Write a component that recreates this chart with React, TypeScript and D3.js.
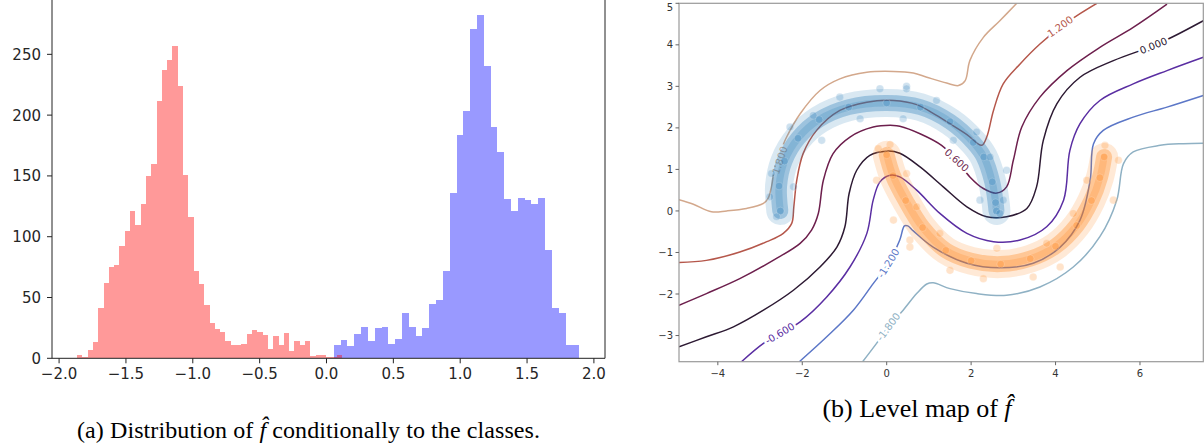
import React from 'react';
import * as d3 from 'd3';

// ---- left panel: histogram of f-hat per class ----
const redRange = [-1.866, 0.117];
const redCounts = [3, 1, 7, 13, 41, 62, 75, 77, 92, 105, 121, 110, 127, 150, 160, 212, 237, 245, 257, 224,
  151, 116, 72, 61, 44, 29, 24, 22, 14, 11, 11, 12, 20, 23, 22, 19, 8, 18, 11, 21,
  6, 14, 11, 14, 2, 3, 3, 1, 1, 3];
const blueRange = [0.055, 1.89];
const blueCounts = [11, 15, 10, 20, 26, 14, 25, 26, 12, 16, 37, 26, 18, 25, 45, 48, 72, 136, 184, 203,
  271, 282, 240, 190, 170, 131, 121, 132, 130, 127, 132, 89, 41, 37, 11, 11];
const histXTicks = [-2.0, -1.5, -1.0, -0.5, 0.0, 0.5, 1.0, 1.5, 2.0];
const histYTicks = [0, 50, 100, 150, 200, 250];

// ---- right panel: level map ----
const levels = [-1.8, -1.2, -0.6, 0.0, 0.6, 1.2, 1.8];
const levelColors = ['#8fb1c4', '#5c77c7', '#5a2ea2', '#2d1a33', '#6d1f4d', '#b5574b', '#d3a88c'];

const lineM18 = [[-0.57, -3.63], [-0.24, -3.19], [0.04, -2.79], [0.39, -2.39], [0.71, -1.99], [0.95, -1.76], [1.1, -1.73],
  [1.5, -1.87], [2.13, -1.99], [2.84, -2.03], [3.63, -1.83], [4.42, -1.35], [5.05, -0.62], [5.45, 0.26], [5.61, 1.14],
  [5.84, 1.42], [6.48, 1.58], [7.03, 1.62], [7.5, 1.63]];
const lineM12 = [[-2.07, -3.63], [-1.42, -3.03], [-0.79, -2.39], [-0.32, -1.75], [0.04, -1.26], [0.31, -0.7], [0.42, -0.36],
  [0.5, -0.36], [0.63, -0.48], [1.1, -0.87], [1.9, -1.26], [2.68, -1.37], [3.47, -1.26], [4.11, -0.87], [4.58, -0.22],
  [4.82, 0.74], [4.9, 1.62], [5.13, 1.94], [5.84, 2.26], [6.64, 2.5], [7.5, 2.78]];
const lineM06 = [[-3.44, -3.63], [-2.92, -3.19], [-2.53, -2.95], [-2.05, -2.67], [-1.42, -2.07], [-0.87, -1.35], [-0.47, -0.54],
  [-0.32, 0.26], [-0.16, 0.7], [0.08, 0.86], [0.31, 0.82], [0.71, 0.5], [1.26, -0.06], [1.9, -0.54], [2.53, -0.74],
  [3.16, -0.7], [3.79, -0.38], [4.19, 0.26], [4.34, 1.46], [4.58, 2.1], [5.05, 2.66], [5.84, 3.06], [6.64, 3.38], [7.5, 3.7]];
const line00 = [[-4.92, -3.27], [-4.27, -3.03], [-3.63, -2.79], [-2.92, -2.39], [-2.21, -1.91], [-1.58, -1.35], [-1.18, -0.87],
  [-0.99, -0.38], [-0.89, 0.42], [-0.71, 0.98], [-0.4, 1.34], [0, 1.44], [0.31, 1.39], [0.79, 1.06], [1.34, 0.58], [1.9, 0.1],
  [2.37, -0.14], [2.84, -0.14], [3.32, 0.06], [3.55, 0.58], [3.71, 1.7], [4.03, 2.58], [4.58, 3.22], [5.37, 3.62],
  [6.32, 3.98], [6.79, 4.2], [7.5, 4.58]];
const lineP06 = [[-4.92, -2.27], [-4.27, -1.99], [-3.48, -1.63], [-2.69, -1.19], [-2.05, -0.78], [-1.78, -0.46], [-1.62, -0.06],
  [-1.5, 0.74], [-1.27, 1.38], [-0.87, 1.78], [-0.32, 2.02], [0.16, 2.06], [0.31, 2.04], [0.79, 1.86], [1.3, 1.58],
  [1.66, 1.22], [1.97, 0.82], [2.29, 0.54], [2.61, 0.43], [2.84, 0.58], [3.0, 1.22], [3.2, 2.02], [3.63, 2.74],
  [4.27, 3.38], [5.05, 3.94], [5.84, 4.42], [6.64, 4.98]];
const lineP12 = [[-4.92, -1.24], [-4.27, -1.19], [-3.48, -0.99], [-2.84, -0.74], [-2.45, -0.54], [-2.25, -0.3], [-2.2, 0.1],
  [-2.13, 0.74], [-1.98, 1.38], [-1.66, 1.94], [-1.11, 2.42], [-0.47, 2.62], [0.16, 2.66], [0.71, 2.56], [1.1, 2.35],
  [1.5, 2.1], [1.9, 1.84], [2.25, 1.58], [2.37, 1.78], [2.53, 2.42], [2.76, 3.06], [3.16, 3.54], [3.63, 4.02],
  [4.11, 4.42], [4.58, 4.75], [4.98, 5.0]];
const lineP18 = [[-4.92, 0.27], [-4.58, 0.16], [-4.15, -0.02], [-3.79, 0.0], [-3.32, 0.06], [-2.92, 0.18], [-2.81, 0.3],
  [-2.73, 0.58], [-2.65, 1.06], [-2.53, 1.4], [-2.37, 1.78], [-2.05, 2.34], [-1.58, 2.9], [-1.11, 3.18], [-0.47, 3.34],
  [0.16, 3.36], [0.63, 3.32], [0.95, 3.22], [1.42, 3.08], [1.7, 3.02], [1.86, 3.14], [1.97, 3.62], [2.29, 4.18],
  [2.68, 4.58], [3.08, 5.0]];
const contourLines = [lineM18, lineM12, lineM06, line00, lineP06, lineP12, lineP18];

// [level, x, y, angle]
const contourLabels = [
  [-1.8, 0.04, -2.79, -53], [-1.2, 0.04, -1.26, -58], [-0.6, -2.53, -2.95, -30],
  [0.0, 6.32, 3.98, -22], [0.6, 1.66, 1.22, 42], [1.2, 4.11, 4.44, -35], [1.8, -2.53, 1.22, -72],
];

const blueMoon = [[-2.52, 0.0], [-2.55, 0.6], [-2.42, 1.2], [-2.1, 1.75], [-1.6, 2.2], [-0.9, 2.5], [0, 2.6], [0.8, 2.5],
  [1.5, 2.15], [2.05, 1.65], [2.3, 1.3], [2.5, 0.7], [2.58, 0.2], [2.6, 0.0]];
const orangeMoon = [[0.0, 1.35], [0.15, 0.85], [0.45, 0.25], [0.85, -0.4], [1.4, -0.95], [2.0, -1.2], [2.7, -1.28],
  [3.4, -1.15], [4.0, -0.85], [4.5, -0.35], [4.85, 0.25], [5.05, 0.8], [5.15, 1.3]];
const blueStray = [[-2.77, 0.34], [-2.73, 0.9], [-2.61, -0.14], [-2.21, 0.58], [-2.29, 2.02], [-1.74, 2.3], [-1.54, 1.7],
  [-1.11, 2.74], [-0.63, 2.22], [-0.16, 2.94], [0.47, 3.0], [0.39, 2.22], [0.47, 2.94], [1.18, 2.66], [1.58, 1.7],
  [2.13, 1.9], [2.45, 1.3], [2.84, 0.98], [2.76, 0.26], [2.21, 0.26], [2.68, -0.06]];
const orangeStray = [[-0.2, 1.5], [0.08, 1.6], [-0.24, 0.74], [0.47, 0.9], [0.16, -0.22], [0.71, 0.1], [0.55, -0.87],
  [0.55, -0.7], [1.26, -0.54], [1.5, -1.43], [2.29, -1.63], [2.61, -0.9], [3.47, -1.59], [4.11, -1.35], [3.79, -0.78],
  [4.42, -0.06], [4.74, 0.74], [5.17, 1.58], [5.37, 0.26], [5.49, 1.22]];
const mapXTicks = [-4, -2, 0, 2, 4, 6];
const mapYTicks = [-3, -2, -1, 0, 1, 2, 3, 4, 5];

const minus = (s: string) => s.replace('-', '\u2212');

export default function App() {
  // histogram scales
  const xH = d3.scaleLinear().domain([-2.053, 2.083]).range([52, 605]);
  const yH = d3.scaleLinear().domain([0, 296]).range([358.3, -1.6]);
  // level map scales
  const xM = d3.scaleLinear().domain([-4.92, 7.5]).range([679, 1203.3]);
  const yM = d3.scaleLinear().domain([-3.63, 5]).range([361.7, 3.3]);

  const curve = d3.line<number[]>()
    .x(d => xM(d[0]))
    .y(d => yM(d[1]))
    .curve(d3.curveCatmullRom.alpha(0.5));

  const bars = (range: number[], counts: number[], color: string) => {
    const w = (range[1] - range[0]) / counts.length;
    return counts.map((c, i) => {
      const x0 = xH(range[0] + i * w);
      const x1 = xH(range[0] + (i + 1) * w);
      return <rect key={i} x={x0} y={yH(c)} width={x1 - x0} height={yH(0) - yH(c)}
        fill={color} fillOpacity={0.4} shapeRendering="crispEdges" />;
    });
  };

  const moon = (pts: number[][], stray: number[][], color: string) => (
    <g>
      <path d={curve(pts) || ''} fill="none" stroke={color} strokeOpacity={0.17} strokeWidth={28} strokeLinecap="round" />
      <path d={curve(pts) || ''} fill="none" stroke={color} strokeOpacity={0.32} strokeWidth={16} strokeLinecap="round" />
      <path d={curve(pts) || ''} fill="none" stroke={color} strokeOpacity={0.2} strokeWidth={7} strokeLinecap="round" />
      {pts.concat(stray).map((p, i) => (
        <circle key={i} cx={xM(p[0])} cy={yM(p[1])} r={3.8} fill={color} fillOpacity={0.22}
          stroke="#fff" strokeOpacity={0.4} strokeWidth={0.5} />
      ))}
    </g>
  );

  const hb = yH(0);
  const mb = yM(-3.63);
  const ml = xM(-4.92);

  return (
    <svg width={1204} height={446} style={{ position: 'absolute', left: 0, top: 0, background: '#fff' }}
      fontFamily="DejaVu Sans">
      <defs>
        <clipPath id="mapclip">
          <rect x={679} y={3.3} width={524.3} height={358.4} />
        </clipPath>
      </defs>

      {/* left: histogram */}
      <g>
        {bars(blueRange, blueCounts, '#0000ff')}
        {bars(redRange, redCounts, '#ff0000')}
        <line x1={52} x2={52} y1={-2} y2={hb} stroke="#222" strokeWidth={1} />
        <line x1={605} x2={605} y1={-2} y2={hb} stroke="#222" strokeWidth={1} />
        <line x1={52} x2={605} y1={hb} y2={hb} stroke="#222" strokeWidth={1} />
        {histYTicks.map(t => (
          <g key={t}>
            <line x1={47} x2={52} y1={yH(t)} y2={yH(t)} stroke="#222" />
            <text x={41} y={yH(t)} dy="0.36em" textAnchor="end" fontSize={15} fill="#262626">{t}</text>
          </g>
        ))}
        {histXTicks.map(t => (
          <g key={t}>
            <line x1={xH(t)} x2={xH(t)} y1={hb} y2={hb + 5} stroke="#222" />
            <text x={xH(t)} y={379} textAnchor="middle" fontSize={15} fill="#262626">{minus(t.toFixed(1))}</text>
          </g>
        ))}
      </g>

      {/* right: level map */}
      <g clipPath="url(#mapclip)">
        {contourLines.map((pts, i) => (
          <path key={i} d={curve(pts) || ''} fill="none" stroke={levelColors[i]} strokeWidth={1.5} />
        ))}
        {contourLabels.map((l, i) => {
          const c = levelColors[levels.indexOf(l[0])];
          return (
            <text key={i} transform={`translate(${xM(l[1])},${yM(l[2])}) rotate(${l[3]})`} textAnchor="middle"
              dy="0.35em" fontSize={10} fill={c} stroke="#fff" strokeWidth={5} paintOrder="stroke"
              strokeLinejoin="round">{l[0].toFixed(3)}</text>
          );
        })}
        {moon(blueMoon, blueStray, '#1f77b4')}
        {moon(orangeMoon, orangeStray, '#ff7f0e')}
      </g>
      <rect x={679} y={3.3} width={524.3} height={358.4} fill="none" stroke="#9a9a9a" strokeWidth={1.2} />
      {mapXTicks.map(t => (
        <g key={t}>
          <line x1={xM(t)} x2={xM(t)} y1={mb} y2={mb + 3.5} stroke="#666" />
          <text x={xM(t)} y={377} textAnchor="middle" fontSize={10} fill="#333">{minus(String(t))}</text>
        </g>
      ))}
      {mapYTicks.map(t => (
        <g key={t}>
          <line x1={ml - 3.5} x2={ml} y1={yM(t)} y2={yM(t)} stroke="#666" />
          <text x={ml - 6} y={Math.max(yM(t), 7)} dy="0.36em" textAnchor="end" fontSize={10} fill="#333">{minus(String(t))}</text>
        </g>
      ))}

      {/* captions */}
      <text x={308.5} y={438} textAnchor="middle" fontFamily="Liberation Serif" fontSize={24} fill="#000"
        textLength={463} lengthAdjust="spacing">
        (a) Distribution of <tspan fontStyle="italic">f̂</tspan> conditionally to the classes.
      </text>
      <text x={917} y={417} textAnchor="middle" fontFamily="Liberation Serif" fontSize={26} fill="#000">
        (b) Level map of <tspan fontStyle="italic">f̂</tspan>
      </text>
    </svg>
  );
}
